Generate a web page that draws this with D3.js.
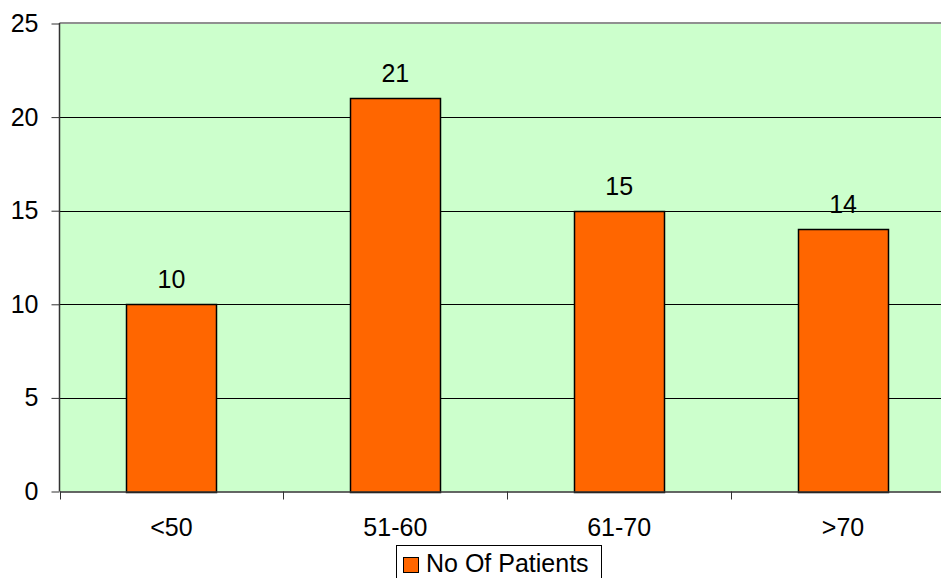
<!DOCTYPE html>
<html><head><meta charset="utf-8">
<script src="https://cdn.jsdelivr.net/npm/d3@7"></script>
<style>body{margin:0;background:#fff}svg{display:block}text{font-family:"Liberation Sans",Arial,sans-serif}</style>
</head><body><svg id="c" width="941" height="578"></svg>
<script>
const categories = ["<50", "51-60", "61-70", ">70"];
const values = [10, 21, 15, 14];
const yTicks = [0, 5, 10, 15, 20, 25];
const seriesName = "No Of Patients";

const FS = 25;
const svg = d3.select("#c");
const m = {left: 59.5, top: 23.5, right: 955, bottom: 491.5};
const x = d3.scaleBand().domain(categories).range([m.left, m.right]).paddingInner(0).paddingOuter(0);
const y = d3.scaleLinear().domain([0, 25]).range([m.bottom, m.top]);

svg.append("rect").attr("x", m.left).attr("y", m.top).attr("width", m.right - m.left).attr("height", m.bottom - m.top).attr("fill", "#ccffcc");

// gridlines
svg.append("g").selectAll("line").data(yTicks.filter(d => d > 0 && d < 25)).join("line")
  .attr("x1", m.left).attr("x2", m.right).attr("y1", d => Math.round(y(d)) + 0.5).attr("y2", d => Math.round(y(d)) + 0.5)
  .attr("stroke", "#000").attr("stroke-width", 1);
svg.append("line").attr("x1", m.left).attr("x2", m.right).attr("y1", 23).attr("y2", 23).attr("stroke", "#909090").attr("stroke-width", 2);

// bars
const bw = 90;
svg.append("g").selectAll("rect").data(values).join("rect")
  .attr("x", (d, i) => Math.round(x(categories[i]) + x.bandwidth() / 2 - bw / 2) + 0.5)
  .attr("y", d => Math.round(y(d)) + 0.5)
  .attr("width", bw).attr("height", d => Math.round(y(0)) - Math.round(y(d)))
  .attr("fill", "#ff6600").attr("stroke", "#000").attr("stroke-width", 1.5);

// data labels
svg.append("g").selectAll("text").data(values).join("text")
  .attr("x", (d, i) => x(categories[i]) + x.bandwidth() / 2)
  .attr("y", d => y(d) - 16)
  .attr("text-anchor", "middle").attr("font-size", FS).attr("fill", "#000").text(d => d);

// y axis
const ya = d3.axisLeft(y).tickValues(yTicks).tickSize(8).tickPadding(13).tickFormat(d3.format("d"));
const gy = svg.append("g").attr("transform", `translate(${m.left},0)`).call(ya);
gy.attr("font-size", FS).attr("font-family", '"Liberation Sans",Arial,sans-serif');
gy.select(".domain").attr("stroke", "#333").attr("stroke-width", 1.5).attr("d", `M0,${m.top - 0.5}V${m.bottom}`);
gy.selectAll(".tick line").attr("stroke", "#333");
gy.selectAll(".tick text").attr("fill", "#000");

// x axis
const xa = d3.axisBottom(x).tickSize(0).tickPadding(27);
const gx = svg.append("g").attr("transform", `translate(0,${m.bottom})`).call(xa);
gx.attr("font-size", FS).attr("font-family", '"Liberation Sans",Arial,sans-serif');
gx.select(".domain").attr("stroke", "#333").attr("stroke-width", 1.5);
gx.selectAll(".tick text").attr("fill", "#000");
const bounds = categories.map(c => x(c)).concat([m.right]);
svg.append("g").selectAll("line").data(bounds).join("line")
  .attr("x1", d => Math.round(d) + 0.5).attr("x2", d => Math.round(d) + 0.5).attr("y1", m.bottom).attr("y2", m.bottom + 8)
  .attr("stroke", "#333").attr("stroke-width", 1);

// legend
const lg = svg.append("g");
lg.append("rect").attr("x", 396.5).attr("y", 545.5).attr("width", 205).attr("height", 40).attr("fill", "#fff").attr("stroke", "#000").attr("stroke-width", 1);
lg.append("rect").attr("x", 403.5).attr("y", 557.5).attr("width", 15).attr("height", 15).attr("fill", "#ff6600").attr("stroke", "#000").attr("stroke-width", 1);
lg.append("text").attr("x", 426).attr("y", 572).attr("font-size", FS).attr("fill", "#000").text(seriesName);
</script></body></html>
